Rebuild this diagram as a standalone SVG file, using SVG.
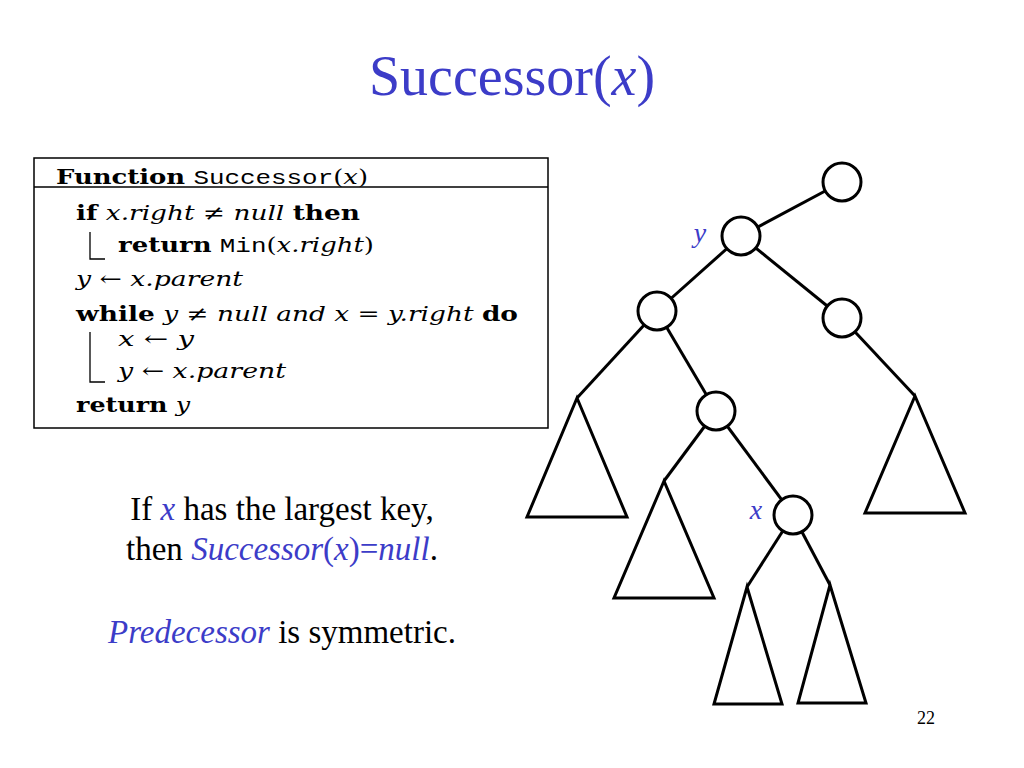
<svg xmlns="http://www.w3.org/2000/svg" width="1024" height="768" viewBox="0 0 1024 768">
<style>
.t{font-family:"Liberation Serif",serif;fill:#000}
.b{fill:#3c3cc8}
.a{font-family:"DejaVu Serif","Liberation Serif",serif;font-size:21px;fill:#000}
.tt{font-family:"Liberation Mono",monospace}
.i{font-style:italic}
.bd{font-weight:bold}
.e{stroke:#000;stroke-width:3;fill:none}
.n{fill:#fff;stroke:#000;stroke-width:3}
.tri{fill:#fff;stroke:#000;stroke-width:3}
</style>
<rect width="1024" height="768" fill="#fff"/>
<text x="512" y="95" text-anchor="middle" class="t b" font-size="56" style="fill:#3c3cc8">Successor(<tspan class="i">x</tspan>)</text>
<g id="algo">
<rect x="34" y="158" width="514" height="270" fill="#fff" stroke="#000" stroke-width="1.5"/>
<line x1="34" y1="187" x2="548" y2="187" stroke="#000" stroke-width="1.5"/>
<g class="a">
<text x="56" y="184" textLength="312" lengthAdjust="spacingAndGlyphs"><tspan class="bd">Function</tspan> <tspan class="tt">Successor</tspan>(<tspan class="i">x</tspan>)</text>
<text x="76" y="220" textLength="284" lengthAdjust="spacingAndGlyphs"><tspan class="bd">if</tspan> <tspan class="i">x.right</tspan> ≠ <tspan class="i">null</tspan> <tspan class="bd">then</tspan></text>
<text x="118" y="252" textLength="256" lengthAdjust="spacingAndGlyphs"><tspan class="bd">return</tspan> <tspan class="tt">Min</tspan>(<tspan class="i">x.right</tspan>)</text>
<text x="76" y="286" textLength="167" lengthAdjust="spacingAndGlyphs"><tspan class="i">y</tspan> ← <tspan class="i">x.parent</tspan></text>
<text x="76" y="321" textLength="442" lengthAdjust="spacingAndGlyphs"><tspan class="bd">while</tspan> <tspan class="i">y</tspan> ≠ <tspan class="i">null  and x</tspan> = <tspan class="i">y.right</tspan> <tspan class="bd">do</tspan></text>
<text x="118" y="346" textLength="76" lengthAdjust="spacingAndGlyphs"><tspan class="i">x</tspan> ← <tspan class="i">y</tspan></text>
<text x="118" y="378" textLength="168" lengthAdjust="spacingAndGlyphs"><tspan class="i">y</tspan> ← <tspan class="i">x.parent</tspan></text>
<text x="76" y="412" textLength="114" lengthAdjust="spacingAndGlyphs"><tspan class="bd">return</tspan> <tspan class="i">y</tspan></text>
</g>
<path d="M90 232V259H105M90 332V382H105" stroke="#000" stroke-width="1.3" fill="none"/>
</g>
<g id="notes" class="t" font-size="33">
<text x="282" y="520" text-anchor="middle">If <tspan class="b i">x</tspan> has the largest key,</text>
<text x="282" y="560" text-anchor="middle">then <tspan class="b i">Successor</tspan><tspan class="b">(</tspan><tspan class="b i">x</tspan><tspan class="b">)=</tspan><tspan class="b i">null</tspan>.</text>
<text x="282" y="643" text-anchor="middle"><tspan class="b i">Predecessor</tspan> is symmetric.</text>
</g>
<g id="connectors" class="e">
<line x1="842" y1="182" x2="741" y2="236"/>
<line x1="741" y1="236" x2="657" y2="311"/>
<line x1="741" y1="236" x2="842" y2="318"/>
<line x1="657" y1="311" x2="716" y2="411"/>
<line x1="716" y1="411" x2="793" y2="515"/>
<line x1="657" y1="311" x2="577" y2="398"/>
<line x1="842" y1="318" x2="915" y2="396"/>
<line x1="716" y1="411" x2="664" y2="481"/>
<line x1="793" y1="515" x2="747" y2="587"/>
<line x1="793" y1="515" x2="830" y2="585"/>
</g>
<g id="subtrees">
<polygon class="tri" points="577,398 527,517 627,517"/>
<polygon class="tri" points="915,396 865,513 965,513"/>
<polygon class="tri" points="664,481 614,598 714,598"/>
<polygon class="tri" points="747,587 714,704 782,704"/>
<polygon class="tri" points="830,585 798,703 866,703"/>
</g>
<g id="node-root"><circle class="n" cx="842" cy="182" r="19"/></g>
<g id="node-y"><circle class="n" cx="741" cy="236" r="19"/><text x="700" y="242" text-anchor="middle" class="t b i" font-size="28">y</text></g>
<g id="node-l"><circle class="n" cx="657" cy="311" r="19"/></g>
<g id="node-r"><circle class="n" cx="842" cy="318" r="19"/></g>
<g id="node-m"><circle class="n" cx="716" cy="411" r="19"/></g>
<g id="node-x"><circle class="n" cx="793" cy="515" r="19"/><text x="756" y="519" text-anchor="middle" class="t b i" font-size="28">x</text></g>
<text x="926" y="724" text-anchor="middle" class="t" font-size="18">22</text>
</svg>
